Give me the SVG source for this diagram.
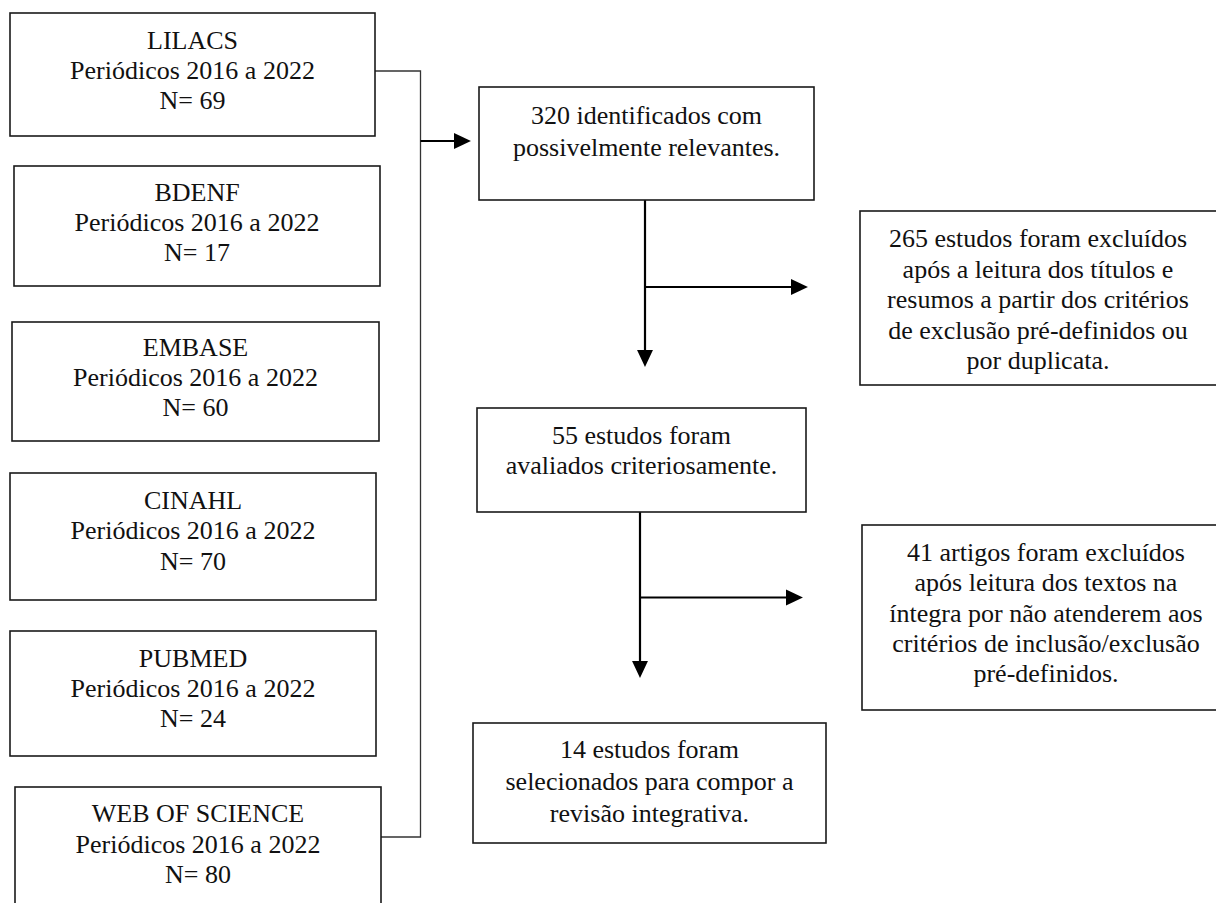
<svg xmlns="http://www.w3.org/2000/svg" width="1216" height="903" viewBox="0 0 1216 903">
<defs>
<style>
.box{fill:#fff;stroke:#1a1a1a;stroke-width:1.6}
.t{font-family:"Liberation Serif","Times New Roman",serif;font-size:26px;fill:#111;text-anchor:middle}
.br{fill:none;stroke:#333;stroke-width:1.3}
.ar{fill:none;stroke:#000;stroke-width:2.2}
</style>
<marker id="ah" markerUnits="userSpaceOnUse" markerWidth="18" markerHeight="18" refX="0" refY="0" viewBox="0 -8 17 16" orient="auto" overflow="visible">
<path d="M0,-7.5 L16,0 L0,7.5 Z" fill="#000"/>
</marker>
</defs>
<rect width="1216" height="903" fill="#fff"/>

<g id="connectors">
<path class="br" d="M375,71 H420.5 V837 H381"/>
<line class="ar" x1="420.5" y1="141" x2="454" y2="141" marker-end="url(#ah)"/>
<line class="ar" x1="645" y1="200" x2="645" y2="350" marker-end="url(#ah)"/>
<line class="ar" x1="645" y1="287" x2="791" y2="287" marker-end="url(#ah)"/>
<line class="ar" x1="640" y1="512" x2="640" y2="661" marker-end="url(#ah)"/>
<line class="ar" x1="640" y1="597.5" x2="786" y2="597.5" marker-end="url(#ah)"/>
</g>

<g id="lilacs">
<rect class="box" x="10" y="13" width="365" height="123"/>
<text class="t" x="192.5" y="49">LILACS</text>
<text class="t" x="192.5" y="79">Periódicos 2016 a 2022</text>
<text class="t" x="192.5" y="109">N= 69</text>
</g>

<g id="bdenf">
<rect class="box" x="14" y="166" width="366" height="120"/>
<text class="t" x="197" y="201">BDENF</text>
<text class="t" x="197" y="231">Periódicos 2016 a 2022</text>
<text class="t" x="197" y="261">N= 17</text>
</g>

<g id="embase">
<rect class="box" x="12" y="322" width="367" height="119"/>
<text class="t" x="195.5" y="356">EMBASE</text>
<text class="t" x="195.5" y="386">Periódicos 2016 a 2022</text>
<text class="t" x="195.5" y="416">N= 60</text>
</g>

<g id="cinahl">
<rect class="box" x="10" y="473" width="366" height="127"/>
<text class="t" x="193" y="509">CINAHL</text>
<text class="t" x="193" y="539">Periódicos 2016 a 2022</text>
<text class="t" x="193" y="570">N= 70</text>
</g>

<g id="pubmed">
<rect class="box" x="10" y="631" width="366" height="125"/>
<text class="t" x="193" y="667">PUBMED</text>
<text class="t" x="193" y="697">Periódicos 2016 a 2022</text>
<text class="t" x="193" y="727">N= 24</text>
</g>

<g id="webofscience">
<rect class="box" x="15" y="787" width="366" height="130"/>
<text class="t" x="198" y="822">WEB OF SCIENCE</text>
<text class="t" x="198" y="853">Periódicos 2016 a 2022</text>
<text class="t" x="198" y="883">N= 80</text>
</g>

<g id="identified">
<rect class="box" x="479" y="87" width="335" height="113"/>
<text class="t" x="646.5" y="124">320 identificados com</text>
<text class="t" x="646.5" y="156">possivelmente relevantes.</text>
</g>

<g id="excluded1">
<rect class="box" x="860" y="211" width="370" height="174"/>
<text class="t" x="1038" y="247">265 estudos foram excluídos</text>
<text class="t" x="1038" y="277.5">após a leitura dos títulos e</text>
<text class="t" x="1038" y="308">resumos a partir dos critérios</text>
<text class="t" x="1038" y="338.5">de exclusão pré-definidos ou</text>
<text class="t" x="1038" y="369">por duplicata.</text>
</g>

<g id="evaluated">
<rect class="box" x="477" y="408" width="329" height="104"/>
<text class="t" x="641.5" y="444">55 estudos foram</text>
<text class="t" x="641.5" y="474">avaliados criteriosamente.</text>
</g>

<g id="excluded2">
<rect class="box" x="862" y="525" width="370" height="185"/>
<text class="t" x="1046" y="561">41 artigos foram excluídos</text>
<text class="t" x="1046" y="591">após leitura dos textos na</text>
<text class="t" x="1046" y="621.5">íntegra por não atenderem aos</text>
<text class="t" x="1046" y="652">critérios de inclusão/exclusão</text>
<text class="t" x="1046" y="682">pré-definidos.</text>
</g>

<g id="selected">
<rect class="box" x="473" y="723" width="353" height="120"/>
<text class="t" x="649.5" y="758">14 estudos foram</text>
<text class="t" x="649.5" y="790">selecionados para compor a</text>
<text class="t" x="649.5" y="822">revisão integrativa.</text>
</g>
</svg>
